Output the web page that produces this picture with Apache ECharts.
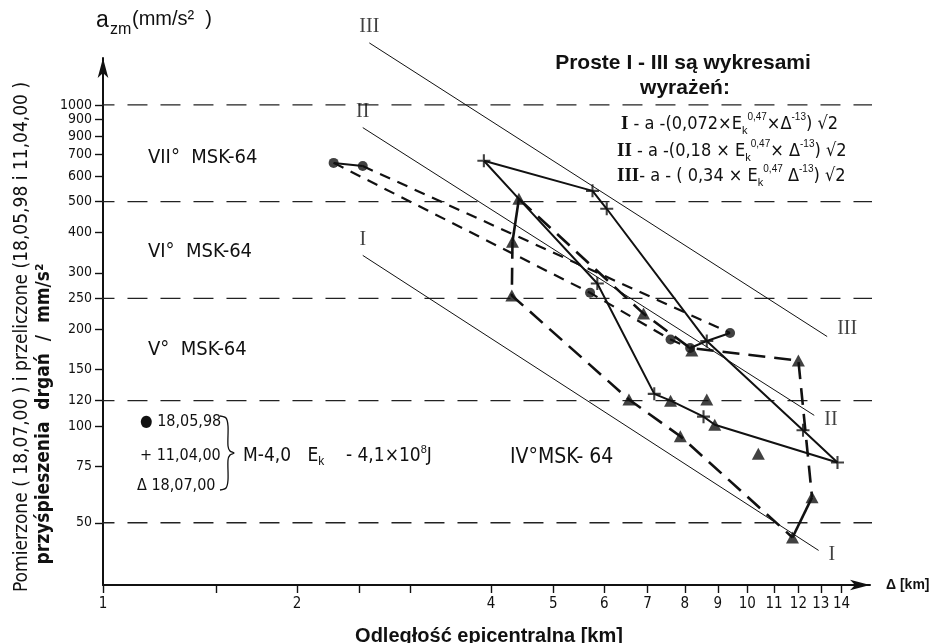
<!DOCTYPE html>
<html>
<head>
<meta charset="utf-8">
<script src="https://cdn.jsdelivr.net/npm/echarts@6/dist/echarts.min.js"></script>
<style>
  html, body { margin: 0; padding: 0; background: #fff; }
  #main { width: 941px; height: 643px; }
</style>
</head>
<body>
<div id="main"></div>
<script>
// axis ticks
const xTickValues = [1, 1.5, 2, 2.5, 3, 4, 5, 6, 7, 8, 9, 10, 11, 12, 13, 14];
const xLabelValues = [1, 2, 4, 5, 6, 7, 8, 9, 10, 11, 12, 13, 14];
const yTickValues = [1000, 900, 800, 700, 600, 500, 400, 300, 250, 200, 150, 120, 100, 75, 50];
const yTickText = ['1000', '900', '900', '700', '600', '500', '400', '300', '250', '200', '150', '120', '100', '75', '50'];
// MSK-64 intensity limits (dashed)
const intensityLevels = [1000, 500, 250, 120, 50];

// reference lines I - III (end points)
const lineI = [[2.53, 340], [12.9, 41]];
const lineII = [[2.53, 850], [12.7, 108]];
const lineIII = [[2.59, 1560], [13.3, 190]];

// measured points
const dots980518 = [[2.28, 660], [2.53, 645], [5.7, 260], [7.6, 186], [8.15, 175], [9.4, 195]];
const plus000411 = [[3.9, 670], [5.75, 540], [6.05, 475], [5.85, 278], [7.17, 126], [8.55, 107], [8.65, 184], [12.2, 97], [13.8, 77]];
const tri000718 = [[4.42, 510], [4.32, 375], [4.31, 255], [6.9, 224], [8.2, 172], [6.55, 121], [7.6, 120], [8.65, 121],
  [7.87, 93], [8.9, 101], [10.4, 82], [12.0, 160], [12.6, 60], [11.75, 45]];

// connecting paths
const dotPathA = [[2.28, 660], [5.7, 260], [7.6, 186], [8.15, 175]];
const dotPathB = [[2.53, 645], [9.4, 195]];
const dotLink = [[2.28, 660], [2.53, 645]];
const plusPathA = [[3.9, 670], [5.75, 540], [6.05, 475], [8.65, 184], [12.2, 97], [13.8, 77]];
const plusPathB = [[3.9, 670], [4.42, 510], [5.85, 278], [7.17, 126], [7.6, 120], [8.55, 107], [8.9, 101], [13.8, 77]];
const plusPathC = [[8.15, 175], [8.65, 184], [9.4, 195]];
const triSolidA = [[4.32, 375], [4.42, 510]];
const triSolidB = [[11.75, 45], [12.6, 60]];
const triDashA = [[4.42, 510], [6.9, 224], [8.15, 175], [12.0, 160], [12.6, 60]];
const triDashB = [[4.32, 375], [4.31, 255], [6.55, 121], [7.87, 93], [11.75, 45]];

const narrow = "'Liberation Sans Narrow', 'DejaVu Sans Condensed', 'Arial Narrow', sans-serif";
const ink = '#111';

function path (data, width, dash) {
    return {
        type: 'line', data: data, symbol: 'none', clip: false, silent: true, z: 3,
        lineStyle: { color: ink, width: width, type: dash || 'solid' }
    };
}

let series = [];
intensityLevels.forEach(function (v) {
    series.push({
        type: 'line', data: [[0.97, v], [25, v]], symbol: 'none', clip: false, silent: true, z: 1,
        lineStyle: { color: '#222', width: 1.3, type: [20, 13] }
    });
});
[lineI, lineII, lineIII].forEach(function (l) { series.push(path(l, 1, 'solid')); });

series.push(path(dotLink, 2, 'solid'));
series.push(path(dotPathA, 2.2, [11, 8]));
series.push(path(dotPathB, 2.2, [11, 8]));
series.push(path(plusPathA, 2, 'solid'));
series.push(path(plusPathB, 2, 'solid'));
series.push(path(plusPathC, 2, 'solid'));
series.push(path(triSolidA, 2.6, 'solid'));
series.push(path(triSolidB, 2.6, 'solid'));
series.push(path(triDashA, 2.6, [17, 9]));
series.push(path(triDashB, 2.6, [17, 9]));

series.push({ type: 'scatter', data: dots980518, symbol: 'circle', symbolSize: 10, itemStyle: { color: ink }, z: 5 });
series.push({ type: 'scatter', data: plus000411, symbol: 'path://M4.2,0H5.8V4.2H10V5.8H5.8V10H4.2V5.8H0V4.2H4.2Z', symbolSize: 13, itemStyle: { color: ink }, z: 5 });
series.push({ type: 'scatter', data: tri000718, symbol: 'triangle', symbolSize: [13, 12], itemStyle: { color: ink }, z: 5 });

// roman numerals at both ends of the reference lines
const romanNames = ['I', 'II', 'III'];
let romanData = [];
[lineI, lineII, lineIII].forEach(function (l, i) {
    romanData.push({ value: l[0], label: { formatter: romanNames[i], position: 'top', distance: 6 } });
    romanData.push({ value: l[1], label: { formatter: romanNames[i], position: 'right', distance: 10, offset: [0, i === 2 ? -8 : 4] } });
});
series.push({
    type: 'scatter', data: romanData, symbolSize: 0, silent: true, z: 6, clip: false,
    label: { show: true, color: ink, fontFamily: "'Liberation Serif', 'DejaVu Serif', serif", fontSize: 20 }
});

const eqRich = {
    r: { fontFamily: 'Liberation Serif, serif', fontWeight: 'bold', fontSize: 19 },
    sup: { fontSize: 10, verticalAlign: 'top', lineHeight: 24 },
    sub: { fontSize: 11, verticalAlign: 'bottom', lineHeight: 24 }
};

function label (x, y, text, font, align) {
    return { type: 'text', x: x, y: y, style: { text: text, font: font, fill: ink, align: align || 'left', verticalAlign: 'middle' } };
}

const myChart = echarts.init(document.getElementById('main'));
myChart.setOption({
    animation: false,
    backgroundColor: '#fff',
    grid: { left: 103, right: 71, top: 58, bottom: 58 },
    xAxis: {
        type: 'log', min: 1, max: 15.5,
        name: 'Δ [km]', nameLocation: 'end', nameGap: 16,
        nameTextStyle: { color: ink, fontSize: 14, fontWeight: 'bold', fontFamily: 'Liberation Sans, Arial, sans-serif' },
        axisLine: { symbol: ['none', 'arrow'], symbolSize: [8, 20], lineStyle: { color: ink, width: 2 } },
        axisTick: { customValues: xTickValues, length: 8, lineStyle: { color: ink, width: 1.4 } },
        axisLabel: {
            customValues: xLabelValues, color: ink, fontSize: 15, fontFamily: narrow, margin: 12,
            formatter: function (v) { return String(Math.round(v)); }
        },
        splitLine: { show: false }, minorTick: { show: false }
    },
    yAxis: {
        type: 'log', min: 32, max: 1400,
        axisLine: { symbol: ['none', 'arrow'], symbolSize: [8, 20], lineStyle: { color: ink, width: 2 } },
        axisTick: { customValues: yTickValues, length: 8, lineStyle: { color: ink, width: 1.4 } },
        axisLabel: {
            customValues: yTickValues, color: ink, fontSize: 14, fontFamily: narrow, margin: 11,
            formatter: function (v) {
                let i = yTickValues.findIndex(function (t) { return Math.abs(t - v) < 0.5; });
                return i >= 0 ? yTickText[i] : '';
            }
        },
        splitLine: { show: false }, minorTick: { show: false }
    },
    graphic: [
        label(96, 21, 'a', '23px Liberation Sans, sans-serif'),
        label(110, 30, 'zm', '16px Liberation Sans, sans-serif'),
        label(132, 19, '(mm/s²  )', '20px Liberation Sans, sans-serif'),
        {
            type: 'text', x: 22, y: 337, rotation: Math.PI / 2,
            style: { text: 'Pomierzone ( 18,07,00 ) i przeliczone (18,05,98 i 11,04,00 )', font: '19px ' + narrow, fill: ink, align: 'center', verticalAlign: 'middle' }
        },
        {
            type: 'text', x: 44, y: 414, rotation: Math.PI / 2,
            style: { text: 'przyśpieszenia  drgań  /  mm/s²', font: 'bold 19px ' + narrow, fill: ink, align: 'center', verticalAlign: 'middle' }
        },
        label(683, 63, 'Proste I - III są wykresami', 'bold 21px Liberation Sans, Arial, sans-serif', 'center'),
        label(685, 88, 'wyrażeń:', 'bold 21px Liberation Sans, Arial, sans-serif', 'center'),
        {
            type: 'text', x: 621, y: 124,
            style: { text: '{r|I} - a -(0,072×E{sub|k}{sup|0,47}×Δ{sup|-13}) √2', font: '18px ' + narrow, fill: ink, align: 'left', verticalAlign: 'middle', rich: eqRich }
        },
        {
            type: 'text', x: 617, y: 151,
            style: { text: '{r|II} - a -(0,18 × E{sub|k}{sup|0,47}× Δ{sup|-13}) √2', font: '18px ' + narrow, fill: ink, align: 'left', verticalAlign: 'middle', rich: eqRich }
        },
        {
            type: 'text', x: 617, y: 176,
            style: { text: '{r|III}- a - ( 0,34 × E{sub|k}{sup|0,47} Δ{sup|-13}) √2', font: '18px ' + narrow, fill: ink, align: 'left', verticalAlign: 'middle', rich: eqRich }
        },
        label(148, 158, 'VII°  MSK-64', '20px ' + narrow),
        label(148, 252, 'VI°  MSK-64', '20px ' + narrow),
        label(148, 350, 'V°  MSK-64', '20px ' + narrow),
        label(510, 458, 'IV°MSK- 64', '21px ' + narrow),
        label(140, 422, '● 18,05,98', '16px ' + narrow),
        label(140, 456, '+ 11,04,00', '16px ' + narrow),
        label(137, 486, 'Δ 18,07,00', '16px ' + narrow),
        {
            type: 'polyline', x: 220, y: 416,
            shape: { points: [[0, 0], [6, 2], [8, 10], [8, 30], [10, 35], [14, 37], [10, 39], [8, 44], [8, 64], [6, 72], [0, 74]], smooth: 0.3 },
            style: { stroke: ink, lineWidth: 1.3, fill: null }
        },
        {
            type: 'text', x: 243, y: 456,
            style: {
                text: 'M-4,0   E{sub|k}    - 4,1×10{sup|8}J', font: '19px ' + narrow, fill: ink, align: 'left', verticalAlign: 'middle',
                rich: { sup: { fontSize: 11, verticalAlign: 'top', lineHeight: 24 }, sub: { fontSize: 12, verticalAlign: 'bottom', lineHeight: 24 } }
            }
        },
        label(489, 636, 'Odległość epicentralna [km]', 'bold 20px Liberation Sans, Arial, sans-serif', 'center')
    ],
    series: series
});
</script>
</body>
</html>
